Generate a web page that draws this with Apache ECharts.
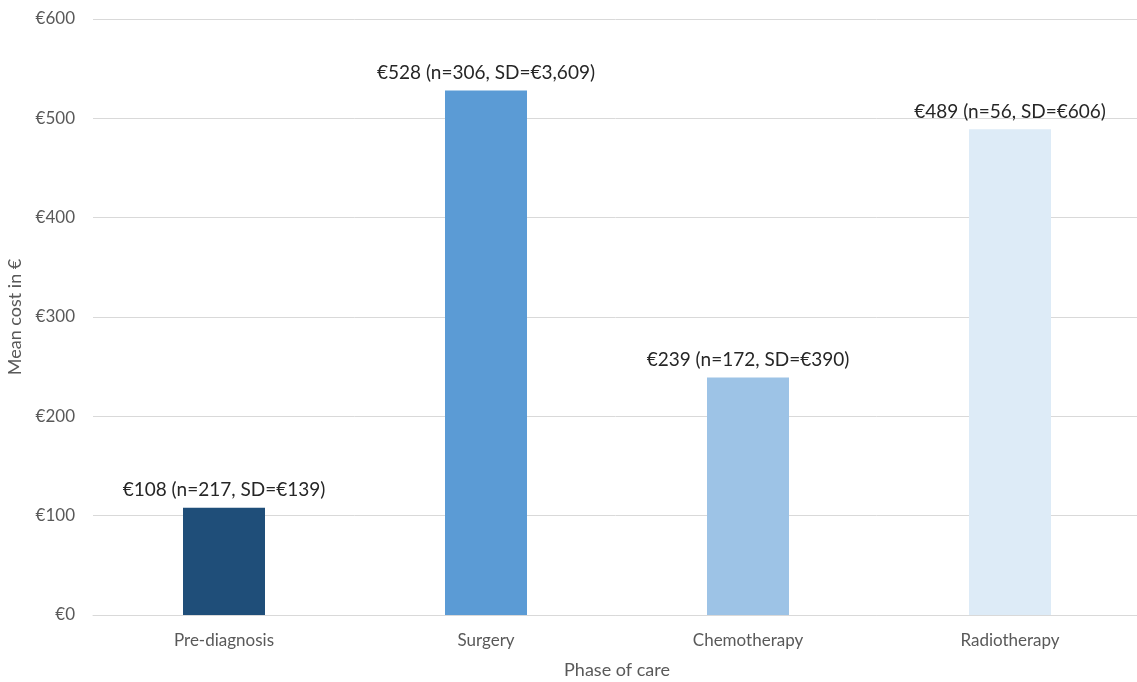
<!DOCTYPE html>
<html>
<head>
<meta charset="utf-8">
<script src="https://cdn.jsdelivr.net/npm/echarts@6/dist/echarts.min.js"></script>
<style>html,body{margin:0;padding:0;background:#fff}#c{width:1137px;height:682px}</style>
</head>
<body>
<div id="c"></div>
<script>
const categories = ['Pre-diagnosis', 'Surgery', 'Chemotherapy', 'Radiotherapy'];
const meanCost = [108, 528, 239, 489];
const nValues = [217, 306, 172, 56];
const sdValues = ['€139', '€3,609', '€390', '€606'];
const barColors = ['#1F4E79', '#5B9BD5', '#9DC3E6', '#DDEBF7'];
const yTicks = [0, 100, 200, 300, 400, 500, 600];

const font = 'Lato';
const chart = echarts.init(document.getElementById('c'));
chart.setOption({
  animation: false,
  grid: { left: 93, right: -4, top: 19, bottom: 67, containLabel: false, outerBoundsMode: 'none' },
  xAxis: {
    type: 'category',
    data: categories,
    name: 'Phase of care',
    nameLocation: 'middle',
    nameGap: 46,
    nameTextStyle: { color: '#595959', fontSize: 18, fontFamily: font },
    axisLine: { show: true, lineStyle: { color: '#D9D9D9', width: 1 } },
    axisTick: { show: false },
    axisLabel: { color: '#595959', fontSize: 17, fontFamily: font, margin: 17 }
  },
  yAxis: {
    type: 'value',
    min: yTicks[0],
    max: yTicks[yTicks.length - 1],
    interval: 100,
    name: 'Mean cost in €',
    nameLocation: 'middle',
    nameGap: 63,
    nameTextStyle: { color: '#595959', fontSize: 18, fontFamily: font },
    axisLine: { show: false },
    axisTick: { show: false },
    splitLine: { lineStyle: { color: '#D9D9D9', width: 1 } },
    axisLabel: { color: '#595959', fontSize: 17, fontFamily: font, margin: 18, formatter: v => '€' + v }
  },
  series: [{
    type: 'bar',
    barWidth: 82,
    data: meanCost.map((v, i) => ({ value: v, itemStyle: { color: barColors[i] } })),
    label: {
      show: true,
      position: 'top',
      distance: 8,
      color: '#262626',
      fontSize: 19,
      fontFamily: font,
      formatter: p => '€' + p.value + ' (n=' + nValues[p.dataIndex] + ', SD=' + sdValues[p.dataIndex] + ')'
    }
  }]
});
</script>
</body>
</html>
